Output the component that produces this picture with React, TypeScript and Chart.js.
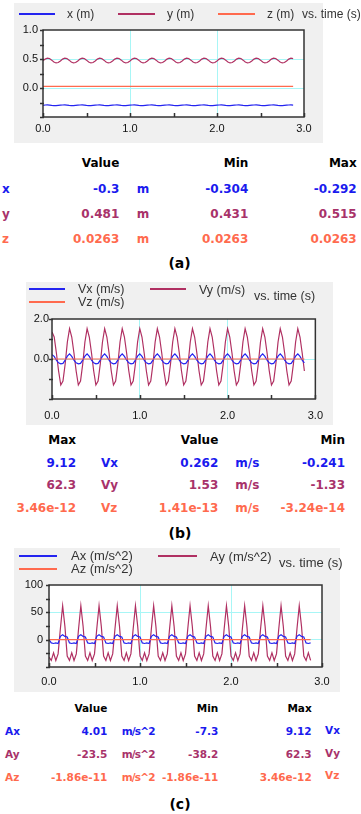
import React, { useEffect, useRef } from 'react';
import { Chart, registerables } from 'chart.js';

Chart.register(...registerables);

// ---------- data ----------
const TIME_STEP = 0.025; // sampling interval of the recorded series (s)
const CONST_TIME = [0, 2.875];

// (a) position
const POS_X = [
  -0.298, -0.293, -0.292, -0.294, -0.299, -0.303, -0.304, -0.300,
  -0.296, -0.293, -0.292, -0.294, -0.299, -0.303, -0.304, -0.300,
  -0.296, -0.293, -0.292, -0.294, -0.299, -0.303, -0.304, -0.300,
  -0.296, -0.293, -0.292, -0.294, -0.299, -0.303, -0.304, -0.300,
  -0.296, -0.293, -0.292, -0.294, -0.299, -0.303, -0.304, -0.300,
  -0.296, -0.293, -0.292, -0.294, -0.299, -0.303, -0.304, -0.300,
  -0.296, -0.293, -0.292, -0.294, -0.299, -0.303, -0.304, -0.300,
  -0.296, -0.293, -0.292, -0.294, -0.299, -0.303, -0.304, -0.300,
  -0.296, -0.293, -0.292, -0.294, -0.299, -0.303, -0.304, -0.300,
  -0.296, -0.293, -0.292, -0.294, -0.299, -0.303, -0.304, -0.300,
  -0.296, -0.293, -0.292, -0.294, -0.299, -0.303, -0.304, -0.300,
  -0.296, -0.293, -0.292, -0.294, -0.299, -0.303, -0.304, -0.300,
  -0.296, -0.293, -0.292, -0.294, -0.299, -0.303, -0.304, -0.300,
  -0.296, -0.293, -0.292, -0.294, -0.299, -0.303, -0.304, -0.300,
  -0.296, -0.293, -0.292, -0.294,
];
const POS_Y = [
  0.470, 0.498, 0.514, 0.507, 0.480, 0.448, 0.432, 0.439,
  0.466, 0.498, 0.514, 0.507, 0.480, 0.448, 0.432, 0.439,
  0.466, 0.498, 0.514, 0.507, 0.480, 0.448, 0.432, 0.439,
  0.466, 0.498, 0.514, 0.507, 0.480, 0.448, 0.432, 0.439,
  0.466, 0.498, 0.514, 0.507, 0.480, 0.448, 0.432, 0.439,
  0.466, 0.498, 0.514, 0.507, 0.480, 0.448, 0.432, 0.439,
  0.466, 0.498, 0.514, 0.507, 0.480, 0.448, 0.432, 0.439,
  0.466, 0.498, 0.514, 0.507, 0.480, 0.448, 0.432, 0.439,
  0.466, 0.498, 0.514, 0.507, 0.480, 0.448, 0.432, 0.439,
  0.466, 0.498, 0.514, 0.507, 0.480, 0.448, 0.432, 0.439,
  0.466, 0.498, 0.514, 0.507, 0.480, 0.448, 0.432, 0.439,
  0.466, 0.498, 0.514, 0.507, 0.480, 0.448, 0.432, 0.439,
  0.466, 0.498, 0.514, 0.507, 0.480, 0.448, 0.432, 0.439,
  0.466, 0.498, 0.514, 0.507, 0.480, 0.448, 0.432, 0.439,
  0.466, 0.498, 0.514, 0.507,
];
const POS_Z = [0.0263, 0.0263];

// (b) velocity
const VEL_X = [
  0.22, 0.13, -0.06, -0.19, -0.24, -0.22, -0.06, 0.14,
  0.26, 0.13, -0.06, -0.19, -0.24, -0.22, -0.06, 0.14,
  0.26, 0.13, -0.06, -0.19, -0.24, -0.22, -0.06, 0.14,
  0.26, 0.13, -0.06, -0.19, -0.24, -0.22, -0.06, 0.14,
  0.26, 0.13, -0.06, -0.19, -0.24, -0.22, -0.06, 0.14,
  0.26, 0.13, -0.06, -0.19, -0.24, -0.22, -0.06, 0.14,
  0.26, 0.13, -0.06, -0.19, -0.24, -0.22, -0.06, 0.14,
  0.26, 0.13, -0.06, -0.19, -0.24, -0.22, -0.06, 0.14,
  0.26, 0.13, -0.06, -0.19, -0.24, -0.22, -0.06, 0.14,
  0.26, 0.13, -0.06, -0.19, -0.24, -0.22, -0.06, 0.14,
  0.26, 0.13, -0.06, -0.19, -0.24, -0.22, -0.06, 0.14,
  0.26, 0.13, -0.06, -0.19, -0.24, -0.22, -0.06, 0.14,
  0.26, 0.13, -0.06, -0.19, -0.24, -0.22, -0.06, 0.14,
  0.26, 0.13, -0.06, -0.19, -0.24, -0.22, -0.06, 0.14,
  0.26, 0.13, -0.06, -0.19,
];
const VEL_Y = [
  1.35, 1.10, 0.30, -0.60, -1.30, -1.10, -0.25, 0.85,
  1.52, 1.10, 0.30, -0.60, -1.30, -1.10, -0.25, 0.85,
  1.52, 1.10, 0.30, -0.60, -1.30, -1.10, -0.25, 0.85,
  1.52, 1.10, 0.30, -0.60, -1.30, -1.10, -0.25, 0.85,
  1.52, 1.10, 0.30, -0.60, -1.30, -1.10, -0.25, 0.85,
  1.52, 1.10, 0.30, -0.60, -1.30, -1.10, -0.25, 0.85,
  1.52, 1.10, 0.30, -0.60, -1.30, -1.10, -0.25, 0.85,
  1.52, 1.10, 0.30, -0.60, -1.30, -1.10, -0.25, 0.85,
  1.52, 1.10, 0.30, -0.60, -1.30, -1.10, -0.25, 0.85,
  1.52, 1.10, 0.30, -0.60, -1.30, -1.10, -0.25, 0.85,
  1.52, 1.10, 0.30, -0.60, -1.30, -1.10, -0.25, 0.85,
  1.52, 1.10, 0.30, -0.60, -1.30, -1.10, -0.25, 0.85,
  1.52, 1.10, 0.30, -0.60, -1.30, -1.10, -0.25, 0.85,
  1.52, 1.10, 0.30, -0.60, -1.30, -1.10, -0.25, 0.85,
  1.52, 1.10, 0.30, -0.60,
];
const VEL_Z = [0, 0];

// (c) acceleration
const ACC_X = [
  0, -6, -7, -6, -7, 6, 9, 6,
  5, -6, -7, -6, -7, 6, 9, 6,
  5, -6, -7, -6, -7, 6, 9, 6,
  5, -6, -7, -6, -7, 6, 9, 6,
  5, -6, -7, -6, -7, 6, 9, 6,
  5, -6, -7, -6, -7, 6, 9, 6,
  5, -6, -7, -6, -7, 6, 9, 6,
  5, -6, -7, -6, -7, 6, 9, 6,
  5, -6, -7, -6, -7, 6, 9, 6,
  5, -6, -7, -6, -7, 6, 9, 6,
  5, -6, -7, -6, -7, 6, 9, 6,
  5, -6, -7, -6, -7, 6, 9, 6,
  5, -6, -7, -6, -7, 6, 9, 6,
  5, -6, -7, -6, -7, 6, 9, 6,
  5, -6, -7, -6,
];
const ACC_Y = [
  -32, -38, -24, -38, -26, 20, 62, 24,
  -30, -38, -24, -38, -26, 20, 62, 24,
  -30, -38, -24, -38, -26, 20, 62, 24,
  -30, -38, -24, -38, -26, 20, 62, 24,
  -30, -38, -24, -38, -26, 20, 62, 24,
  -30, -38, -24, -38, -26, 20, 62, 24,
  -30, -38, -24, -38, -26, 20, 62, 24,
  -30, -38, -24, -38, -26, 20, 62, 24,
  -30, -38, -24, -38, -26, 20, 62, 24,
  -30, -38, -24, -38, -26, 20, 62, 24,
  -30, -38, -24, -38, -26, 20, 62, 24,
  -30, -38, -24, -38, -26, 20, 62, 24,
  -30, -38, -24, -38, -26, 20, 62, 24,
  -30, -38, -24, -38, -26, 20, 62, 24,
  -30, -38, -24, -38,
];
const ACC_Z = [0, 0];

const SAMPLE_TIME = POS_X.map((_, i) => i * TIME_STEP);

// tick labels
const X_TICK_VALUES = [0, 1, 2, 3];
const X_TICK_LABELS = ['0.0', '1.0', '2.0', '3.0'];
const A_Y_TICK_VALUES = [1, 0.5, 0];
const A_Y_TICK_LABELS = ['1.0', '0.5', '0.0'];
const B_Y_TICK_VALUES = [2, 0];
const B_Y_TICK_LABELS = ['2.0', '0.0'];
const C_Y_TICK_VALUES = [100, 50, 0];
const C_Y_TICK_LABELS = ['100', '50', '0'];

// tables
const A_HEAD = ['Value', 'Min', 'Max'];
const A_NAMES = ['x', 'y', 'z'];
const A_VALUE = ['-0.3', '0.481', '0.0263'];
const A_UNIT = ['m', 'm', 'm'];
const A_MIN = ['-0.304', '0.431', '0.0263'];
const A_MAX = ['-0.292', '0.515', '0.0263'];

const B_HEAD = ['Max', 'Value', 'Min'];
const B_MAX = ['9.12', '62.3', '3.46e-12'];
const B_NAMES = ['Vx', 'Vy', 'Vz'];
const B_VALUE = ['0.262', '1.53', '1.41e-13'];
const B_UNIT = ['m/s', 'm/s', 'm/s'];
const B_MIN = ['-0.241', '-1.33', '-3.24e-14'];

const C_HEAD = ['Value', 'Min', 'Max'];
const C_NAMES = ['Ax', 'Ay', 'Az'];
const C_VALUE = ['4.01', '-23.5', '-1.86e-11'];
const C_UNIT = ['m/s^2', 'm/s^2', 'm/s^2'];
const C_MIN = ['-7.3', '-38.2', '-1.86e-11'];
const C_MAX = ['9.12', '62.3', '3.46e-12'];
const C_SIDE = ['Vx', 'Vy', 'Vz'];

// ---------- styles ----------
const BLUE = '#2424f0';
const MAROON = '#b03062';
const TOMATO = '#ff6a4e';
const ROW_COLORS = ['#1a1aee', '#a8326a', '#ff6a4e'];
const CYAN = '#a8f6f6';
const SANS = "'Liberation Sans', Arial, sans-serif";
const BOLD = "'DejaVu Sans', sans-serif";
const PANEL = '#f0f0f0';

const framePlugin = {
  id: 'frame',
  beforeDraw(chart: any) {
    const { ctx, chartArea: a } = chart;
    ctx.save();
    ctx.fillStyle = '#ffffff';
    ctx.fillRect(a.left, a.top, a.right - a.left, a.bottom - a.top);
    ctx.restore();
  },
  afterDraw(chart: any) {
    const { ctx, chartArea: a, scales } = chart;
    ctx.save();
    ctx.strokeStyle = '#333333';
    ctx.lineWidth = 1.5;
    ctx.beginPath();
    scales.y.ticks.forEach((t: any) => {
      const py = Math.round(scales.y.getPixelForValue(t.value)) + 0.5;
      ctx.moveTo(a.left - 3, py);
      ctx.lineTo(a.left + 1, py);
    });
    scales.x.ticks.forEach((t: any) => {
      const px = Math.round(scales.x.getPixelForValue(t.value)) + 0.5;
      ctx.moveTo(px, a.bottom - 4);
      ctx.lineTo(px, a.bottom);
    });
    ctx.stroke();
    ctx.strokeRect(a.left, a.top, a.right - a.left, a.bottom - a.top);
    ctx.restore();
  },
};

type Series = { t: number[]; v: number[]; color: string; order: number };
type Spec = {
  left: number; top: number; width: number; height: number;
  padTop: number; padRight: number; yW: number; xH: number; xPad: number; yPad: number;
  yMin: number; yMax: number; yStep: number;
  yTickValues: number[]; yTickLabels: string[]; yGrid: number[];
  series: Series[];
};

function buildConfig(spec: Spec): any {
  const tickFont = { family: SANS, size: 11 };
  return {
    type: 'line',
    data: {
      datasets: spec.series.map((s) => ({
        data: s.t.map((t, i) => ({ x: t, y: s.v[i] })),
        borderColor: s.color,
        borderWidth: 1.2,
        pointRadius: 0,
        tension: 0,
        fill: false,
        order: s.order,
      })),
    },
    options: {
      responsive: false,
      animation: false,
      devicePixelRatio: 1,
      layout: { padding: { top: spec.padTop, right: spec.padRight, bottom: 0, left: 0 } },
      plugins: { legend: { display: false }, tooltip: { enabled: false } },
      scales: {
        x: {
          type: 'linear',
          min: 0,
          max: 3,
          ticks: {
            stepSize: 0.5,
            autoSkip: false,
            maxRotation: 0,
            padding: spec.xPad,
            font: tickFont,
            color: '#111',
            callback: (v: number) => {
              const k = X_TICK_VALUES.indexOf(v);
              return k >= 0 ? X_TICK_LABELS[k] : '';
            },
          },
          grid: {
            drawTicks: false,
            lineWidth: 1,
            color: (c: any) => (c.tick && (c.tick.value === 1 || c.tick.value === 2) ? CYAN : 'rgba(0,0,0,0)'),
          },
          border: { display: false },
          afterFit: (s: any) => { s.height = spec.xH; },
        },
        y: {
          type: 'linear',
          min: spec.yMin,
          max: spec.yMax,
          ticks: {
            stepSize: spec.yStep,
            autoSkip: false,
            padding: spec.yPad,
            font: tickFont,
            color: '#111',
            callback: (v: number) => {
              const k = spec.yTickValues.indexOf(v);
              return k >= 0 ? spec.yTickLabels[k] : '';
            },
          },
          grid: {
            drawTicks: false,
            lineWidth: 1,
            color: (c: any) => (c.tick && spec.yGrid.includes(c.tick.value) ? CYAN : 'rgba(0,0,0,0)'),
          },
          border: { display: false },
          afterFit: (s: any) => { s.width = spec.yW; },
        },
      },
    },
    plugins: [framePlugin],
  };
}

function ChartCanvas({ spec }: { spec: Spec }) {
  const ref = useRef<HTMLCanvasElement>(null);
  useEffect(() => {
    const chart = new Chart(ref.current as HTMLCanvasElement, buildConfig(spec));
    return () => chart.destroy();
  }, [spec]);
  return (
    <canvas
      ref={ref}
      width={spec.width}
      height={spec.height}
      style={{ position: 'absolute', left: spec.left, top: spec.top, width: spec.width, height: spec.height }}
    />
  );
}

function Txt({ x, y, text, color = '#000', size = 12, bold = false, align = 'left', family = SANS, spacing = 0 }: any) {
  const tx = align === 'right' ? 'translateX(-100%)' : align === 'center' ? 'translateX(-50%)' : 'none';
  return (
    <div
      style={{
        position: 'absolute', left: x, top: y - 10, height: 20, lineHeight: '20px',
        fontSize: size, fontWeight: bold ? 'bold' : 'normal', fontFamily: family,
        color, whiteSpace: 'nowrap', transform: tx, letterSpacing: spacing,
      }}
    >
      {text}
    </div>
  );
}

function LegLine({ x1, x2, y, color }: any) {
  return <div style={{ position: 'absolute', left: x1, top: Math.round(y) - 1, width: x2 - x1, height: 1.5, background: color }} />;
}

function Panel({ l, t, r, b }: any) {
  return <div style={{ position: 'absolute', left: l, top: t, width: r - l, height: b - t, background: PANEL }} />;
}

const SPEC_A: Spec = {
  left: 14, top: 3, width: 309, height: 140,
  padTop: 27, padRight: 19, yW: 29, xH: 26, xPad: 5, yPad: 5,
  yMin: -0.5, yMax: 1, yStep: 0.25,
  yTickValues: A_Y_TICK_VALUES, yTickLabels: A_Y_TICK_LABELS, yGrid: [0.5, 0],
  series: [
    { t: CONST_TIME, v: POS_Z, color: TOMATO, order: 0 },
    { t: SAMPLE_TIME, v: POS_X, color: BLUE, order: 1 },
    { t: SAMPLE_TIME, v: POS_Y, color: MAROON, order: 2 },
  ],
};

const SPEC_B: Spec = {
  left: 26, top: 282, width: 307, height: 143,
  padTop: 37, padRight: 17, yW: 26, xH: 26, xPad: 10, yPad: 3,
  yMin: -2, yMax: 2, yStep: 1,
  yTickValues: B_Y_TICK_VALUES, yTickLabels: B_Y_TICK_LABELS, yGrid: [0],
  series: [
    { t: CONST_TIME, v: VEL_Z, color: TOMATO, order: 0 },
    { t: SAMPLE_TIME, v: VEL_X, color: BLUE, order: 1 },
    { t: SAMPLE_TIME, v: VEL_Y, color: MAROON, order: 2 },
  ],
};

const SPEC_C: Spec = {
  left: 14, top: 548, width: 326, height: 144,
  padTop: 37, padRight: 18, yW: 35, xH: 25, xPad: 8, yPad: 6,
  yMin: -50, yMax: 100, yStep: 25,
  yTickValues: C_Y_TICK_VALUES, yTickLabels: C_Y_TICK_LABELS, yGrid: [50, 0],
  series: [
    { t: CONST_TIME, v: ACC_Z, color: TOMATO, order: 0 },
    { t: SAMPLE_TIME, v: ACC_X, color: BLUE, order: 1 },
    { t: SAMPLE_TIME, v: ACC_Y, color: MAROON, order: 2 },
  ],
};

const LEG = '#333';

export default function App() {
  const aRows = [189.3, 214.3, 239];
  const bRows = [462.7, 485, 508.3];
  const cRows = [731, 754.3, 776.7];
  return (
    <div style={{ position: 'absolute', left: 0, top: 0, width: 361, height: 814, background: '#fff', overflow: 'hidden' }}>
      {/* ---------- (a) ---------- */}
      <Panel l={14} t={3} r={323} b={143} />
      <ChartCanvas spec={SPEC_A} />
      <LegLine x1={19} x2={55} y={14} color={BLUE} />
      <Txt x={67} y={14} text="x (m)" color={LEG} size={12} />
      <LegLine x1={118} x2={155} y={14} color={MAROON} />
      <Txt x={167} y={14} text="y (m)" color={LEG} size={12} />
      <LegLine x1={218} x2={255} y={14} color={TOMATO} />
      <Txt x={267} y={14} text="z (m)" color={LEG} size={12} />
      <Txt x={302} y={14} text="vs. time (s)" color={LEG} size={12} />

      <Txt x={119.3} y={162.7} text={A_HEAD[0]} bold family={BOLD} align="right" />
      <Txt x={248.3} y={162.7} text={A_HEAD[1]} bold family={BOLD} align="right" />
      <Txt x={356.7} y={162.7} text={A_HEAD[2]} bold family={BOLD} align="right" />
      {aRows.map((y, i) => (
        <React.Fragment key={'a' + i}>
          <Txt x={2} y={y} text={A_NAMES[i]} color={ROW_COLORS[i]} bold family={BOLD} />
          <Txt x={119.3} y={y} text={A_VALUE[i]} color={ROW_COLORS[i]} bold family={BOLD} align="right" />
          <Txt x={136.7} y={y} text={A_UNIT[i]} color={ROW_COLORS[i]} bold family={BOLD} />
          <Txt x={248.3} y={y} text={A_MIN[i]} color={ROW_COLORS[i]} bold family={BOLD} align="right" />
          <Txt x={356.7} y={y} text={A_MAX[i]} color={ROW_COLORS[i]} bold family={BOLD} align="right" />
        </React.Fragment>
      ))}
      <Txt x={179.5} y={262.7} text="(a)" bold family={BOLD} size={14} align="center" />

      {/* ---------- (b) ---------- */}
      <Panel l={26} t={282} r={333} b={425} />
      <ChartCanvas spec={SPEC_B} />
      <LegLine x1={29} x2={65} y={289} color={BLUE} />
      <Txt x={78} y={289} text="Vx (m/s)" color={LEG} size={12.5} />
      <LegLine x1={150} x2={186} y={289} color={MAROON} />
      <Txt x={199} y={290} text="Vy (m/s)" color={LEG} size={12.5} />
      <LegLine x1={29} x2={65} y={302} color={TOMATO} />
      <Txt x={78} y={302} text="Vz (m/s)" color={LEG} size={12.5} />
      <Txt x={254} y={296} text="vs. time (s)" color={LEG} size={12.5} />

      <Txt x={76} y={440} text={B_HEAD[0]} bold family={BOLD} align="right" />
      <Txt x={218.3} y={440} text={B_HEAD[1]} bold family={BOLD} align="right" />
      <Txt x={345} y={440} text={B_HEAD[2]} bold family={BOLD} align="right" />
      {bRows.map((y, i) => (
        <React.Fragment key={'b' + i}>
          <Txt x={76} y={y} text={B_MAX[i]} color={ROW_COLORS[i]} bold family={BOLD} align="right" />
          <Txt x={101} y={y} text={B_NAMES[i]} color={ROW_COLORS[i]} bold family={BOLD} />
          <Txt x={218.3} y={y} text={B_VALUE[i]} color={ROW_COLORS[i]} bold family={BOLD} align="right" />
          <Txt x={235.3} y={y} text={B_UNIT[i]} color={ROW_COLORS[i]} bold family={BOLD} />
          <Txt x={345} y={y} text={B_MIN[i]} color={ROW_COLORS[i]} bold family={BOLD} align="right" />
        </React.Fragment>
      ))}
      <Txt x={180} y={533} text="(b)" bold family={BOLD} size={14} align="center" />

      {/* ---------- (c) ---------- */}
      <Panel l={14} t={548} r={340} b={692} />
      <ChartCanvas spec={SPEC_C} />
      <LegLine x1={19} x2={57} y={556} color={BLUE} />
      <Txt x={71} y={556} text="Ax (m/s^2)" color={LEG} size={13} />
      <LegLine x1={158} x2={197} y={556} color={MAROON} />
      <Txt x={210} y={556.7} text="Ay (m/s^2)" color={LEG} size={13} />
      <LegLine x1={19} x2={57} y={569} color={TOMATO} />
      <Txt x={71} y={569} text="Az (m/s^2)" color={LEG} size={13} />
      <Txt x={279} y={563} text="vs. time (s)" color={LEG} size={13} />

      <Txt x={107.3} y={708.3} text={C_HEAD[0]} bold family={BOLD} size={10.5} align="right" />
      <Txt x={218.3} y={708.3} text={C_HEAD[1]} bold family={BOLD} size={10.5} align="right" />
      <Txt x={311.7} y={708.3} text={C_HEAD[2]} bold family={BOLD} size={10.5} align="right" />
      {cRows.map((y, i) => (
        <React.Fragment key={'c' + i}>
          <Txt x={5} y={y} text={C_NAMES[i]} color={ROW_COLORS[i]} bold family={BOLD} size={10.5} />
          <Txt x={107.3} y={y} text={C_VALUE[i]} color={ROW_COLORS[i]} bold family={BOLD} size={10.5} align="right" />
          <Txt x={121.7} y={y} text={C_UNIT[i]} color={ROW_COLORS[i]} bold family={BOLD} size={10.5} spacing={-0.8} />
          <Txt x={218.3} y={y} text={C_MIN[i]} color={ROW_COLORS[i]} bold family={BOLD} size={10.5} align="right" />
          <Txt x={311.7} y={y} text={C_MAX[i]} color={ROW_COLORS[i]} bold family={BOLD} size={10.5} align="right" />
          <Txt x={325} y={y - 1.5} text={C_SIDE[i]} color={ROW_COLORS[i]} bold family={BOLD} size={10.5} />
        </React.Fragment>
      ))}
      <Txt x={180} y={804} text="(c)" bold family={BOLD} size={14} align="center" />
    </div>
  );
}
